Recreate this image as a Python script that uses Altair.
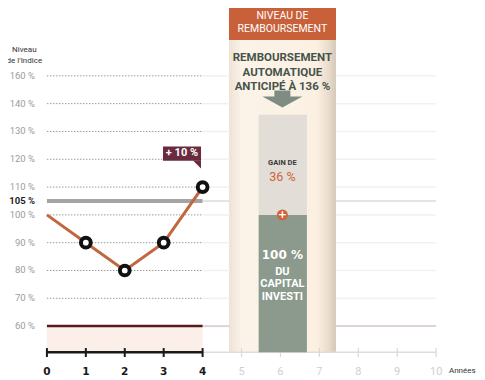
import altair as alt
import pandas as pd

# ---------------- data ----------------
years = [0, 1, 2, 3, 4]
index_levels = [100, 90, 80, 90, 110]
marker_years = [1, 2, 3, 4]
marker_levels = [90, 80, 90, 110]
all_years = [0, 1, 2, 3, 4, 5, 6, 7, 8, 9, 10]
grid_levels = [150, 140, 130, 120, 110, 100, 90, 80, 70]
grid_labels = ["160 %", "140 %", "130 %", "120 %", "110 %", "100 %", "90 %", "80 %", "70 %"]
barrier_level = 60
barrier_label = "60 %"
trigger_level = 105
trigger_label = "105 %"
redemption_level = 136
capital_level = 100
gain_label = "36 %"
perf_label = "+ 10 %"
header_lines = ["NIVEAU DE", "REMBOURSEMENT"]
redemption_lines = ["REMBOURSEMENT", "AUTOMATIQUE", "ANTICIPÉ À 136 %"]
capital_lines = ["100 %", "DU", "CAPITAL", "INVESTI"]
y_title_lines = ["Niveau", "de l'Indice"]
x_title = "Années"

# ---------------- layout ----------------
W, H = 469, 372
X0, X1 = -1.0, 11.05
PXY = 2.7807
Y1 = 174.4
Y0 = Y1 - H / PXY
AXIS_Y = 50.6
COL_X0, COL_X1 = 4.678, 7.427
BAR_X0, BAR_X1 = 5.44, 6.68
COL_C = 6.05

xs = alt.Scale(domain=[X0, X1], nice=False, zero=False)
ys = alt.Scale(domain=[Y0, Y1], nice=False, zero=False)


def X(f="x"):
    return alt.X(f"{f}:Q", scale=xs, axis=None)


def Y(f="y"):
    return alt.Y(f"{f}:Q", scale=ys, axis=None)


def rect(df, **kw):
    return alt.Chart(df).mark_rect(**kw).encode(
        x=X("x"), x2="x2:Q", y=Y("y"), y2="y2:Q")


def hline(df, **kw):
    return alt.Chart(df).mark_rule(**kw).encode(x=X("x"), x2="x2:Q", y=Y("y"))


def text(df, **kw):
    return alt.Chart(df).mark_text(**kw).encode(x=X("x"), y=Y("y"), text="t:N")


COND = "Roboto"
HEAD = "Roboto"
BOLD = "DejaVu Sans"

layers = []

# beige column with gradient
layers.append(rect(pd.DataFrame({"x": [COL_X0], "x2": [COL_X1], "y": [AXIS_Y], "y2": [Y1]}),
                   fill=alt.Gradient(gradient="linear", x1=0, x2=1, y1=0, y2=0, stops=[
                       alt.GradientStop(color="#ede2d4", offset=0),
                       alt.GradientStop(color="#fbf3e9", offset=0.12),
                       alt.GradientStop(color="#fbf0e2", offset=0.82),
                       alt.GradientStop(color="#eadccb", offset=0.93),
                       alt.GradientStop(color="#d6c8ba", offset=1)])))

# faint right-side lines
layers.append(hline(pd.DataFrame({"x": [4] * len(grid_levels), "x2": [4.7] * len(grid_levels),
                                  "y": grid_levels}), color="#f0f0f0", strokeWidth=1.5))
layers.append(hline(pd.DataFrame({"x": [COL_X1] * len(grid_levels), "x2": [10.0] * len(grid_levels),
                                  "y": grid_levels}), color="#f1f1f1", strokeWidth=1.5))
layers.append(hline(pd.DataFrame({"x": [4, COL_X1], "x2": [4.7, 10.0], "y": [trigger_level] * 2}),
                    color="#e4e4e4", strokeWidth=2))
layers.append(hline(pd.DataFrame({"x": [4, COL_X1], "x2": [4.7, 10.0], "y": [barrier_level] * 2}),
                    color="#ddd3d3", strokeWidth=2))

# pink zone below barrier
layers.append(rect(pd.DataFrame({"x": [0], "x2": [4], "y": [AXIS_Y], "y2": [barrier_level]}),
                   color="#fcefea"))

# dotted gridlines
layers.append(hline(pd.DataFrame({"x": [0] * len(grid_levels), "x2": [4] * len(grid_levels),
                                  "y": grid_levels}), color="#9a9a9a", strokeWidth=1,
                    strokeDash=[1.5, 1.5]))
# trigger line
layers.append(hline(pd.DataFrame({"x": [0], "x2": [4], "y": [trigger_level]}),
                    color="#a4a4a4", strokeWidth=4))
# barrier line
layers.append(hline(pd.DataFrame({"x": [0], "x2": [4], "y": [barrier_level]}),
                    color="#5a1818", strokeWidth=2.5))

# y labels
layers.append(text(pd.DataFrame({"x": [-0.306] * (len(grid_levels) + 1),
                                 "y": grid_levels + [barrier_level],
                                 "t": grid_labels + [barrier_label]}),
                   align="right", baseline="middle", fontSize=9.5, color="#9c9c9c", font=COND))
layers.append(text(pd.DataFrame({"x": [-0.306], "y": [trigger_level], "t": [trigger_label]}),
                   align="right", baseline="middle", fontSize=9.5, color="#1e1e2a",
                   fontWeight="bold", font=COND))
layers.append(text(pd.DataFrame({"x": [-0.58] * 2, "y": [159.4, 155.3], "t": y_title_lines}),
                   align="center", baseline="middle", fontSize=8, color="#333333", font=COND))

# x axis (black part)
layers.append(hline(pd.DataFrame({"x": [0], "x2": [4], "y": [AXIS_Y]}), color="#1a1a1a", strokeWidth=2.5))
layers.append(hline(pd.DataFrame({"x": [4], "x2": [10], "y": [AXIS_Y]}), color="#dddddd", strokeWidth=1.5))
tick_df = pd.DataFrame({"x": all_years, "y": [52.1] * 11, "y2": [48.9] * 11,
                        "part": ["a"] * 5 + ["b"] * 6})
layers.append(alt.Chart(tick_df[tick_df.part == "a"]).mark_rule(color="#1a1a1a", strokeWidth=2).encode(
    x=X("x"), y=Y("y"), y2="y2:Q"))
layers.append(alt.Chart(tick_df[tick_df.part == "b"]).mark_rule(color="#d8d8d8", strokeWidth=1.2).encode(
    x=X("x"), y=Y("y"), y2="y2:Q"))
xl = pd.DataFrame({"x": all_years, "y": [43.6] * 11, "t": [str(v) for v in all_years]})
layers.append(text(xl[xl.x <= 4], align="center", baseline="middle", fontSize=10.5,
                   fontWeight="bold", color="#1a1a1a", font=BOLD))
layers.append(text(xl[xl.x > 4], align="center", baseline="middle", fontSize=11,
                   color="#d0d0d0", font=COND))
layers.append(text(pd.DataFrame({"x": [10.33], "y": [43.8], "t": [x_title]}),
                   align="left", baseline="middle", fontSize=8, color="#333333", font=COND))

# index path
path_df = pd.DataFrame({"x": years, "y": index_levels})
layers.append(alt.Chart(path_df).mark_line(color="#c0673f", strokeWidth=3).encode(x=X("x"), y=Y("y")))
mk_df = pd.DataFrame({"x": marker_years, "y": marker_levels})
layers.append(alt.Chart(mk_df).mark_point(shape="circle", filled=True, fill="white", stroke="#111111",
                                          strokeWidth=4, size=95, opacity=1).encode(x=X("x"), y=Y("y")))

# +10 % callout
layers.append(rect(pd.DataFrame({"x": [2.983], "x2": [3.959], "y": [119.5], "y2": [124.6]}),
                   color="#6a2b3f"))
layers.append(alt.Chart(pd.DataFrame({"x": [3.856], "y": [118.1]})).mark_point(
    shape="M-1,-1 L1,-1 L1,1 Z", filled=True, color="#6a2b3f", size=64, opacity=1).encode(
    x=X("x"), y=Y("y")))
layers.append(text(pd.DataFrame({"x": [3.47], "y": [122.1], "t": [perf_label]}),
                   align="center", baseline="middle", fontSize=11, fontWeight="bold",
                   color="white", font=COND))

# header box
layers.append(rect(pd.DataFrame({"x": [COL_X0], "x2": [COL_X1], "y": [162.9], "y2": [Y1]}),
                   color="#c8603a"))
layers.append(text(pd.DataFrame({"x": [COL_C] * 2, "y": [171.5, 166.85], "t": header_lines}),
                   align="center", baseline="middle", fontSize=10.5, color="white", font=COND))
layers.append(text(pd.DataFrame({"x": [COL_C] * 3, "y": [156.4, 151.0, 146.0], "t": redemption_lines}),
                   align="center", baseline="middle", fontSize=11.5, fontWeight="bold",
                   color="#46534b", font=HEAD))
# arrow
layers.append(alt.Chart(pd.DataFrame({"x": [COL_C], "y": [141.7]})).mark_point(
    shape="M-0.4,-0.42 L0.4,-0.42 L0.4,-0.12 L1,-0.12 L0,0.43 L-1,-0.12 L-0.4,-0.12 Z",
    filled=True, color="#7e8c83", size=1600, opacity=1).encode(x=X("x"), y=Y("y")))

# redemption bar
layers.append(rect(pd.DataFrame({"x": [BAR_X0], "x2": [BAR_X1], "y": [capital_level],
                                 "y2": [redemption_level]}), color="#e2ddd6"))
layers.append(rect(pd.DataFrame({"x": [BAR_X0], "x2": [BAR_X1], "y": [AXIS_Y],
                                 "y2": [capital_level]}), color="#8b9a8c"))
layers.append(text(pd.DataFrame({"x": [COL_C], "y": [118.7], "t": ["GAIN DE"]}),
                   align="center", baseline="middle", fontSize=7.5, fontWeight="bold",
                   color="#3a3a3a", font=COND))
layers.append(text(pd.DataFrame({"x": [COL_C], "y": [113.6], "t": [gain_label]}),
                   align="center", baseline="middle", fontSize=12.5,
                   color="#d0623c", font=COND))
layers.append(alt.Chart(pd.DataFrame({"x": [COL_C], "y": [capital_level]})).mark_point(
    shape="circle", filled=True, color="#d0623c", size=120, opacity=1).encode(x=X("x"), y=Y("y")))
layers.append(text(pd.DataFrame({"x": [COL_C], "y": [capital_level], "t": ["+"]}),
                   align="center", baseline="middle", dy=0.5, fontSize=11, fontWeight="bold",
                   color="white", font=BOLD))
layers.append(text(pd.DataFrame({"x": [COL_C], "y": [85.6], "t": [capital_lines[0]]}),
                   align="center", baseline="middle", fontSize=12, fontWeight="bold",
                   color="white", font=BOLD))
layers.append(text(pd.DataFrame({"x": [COL_C] * 3, "y": [79.6, 75.1, 70.6], "t": capital_lines[1:]}),
                   align="center", baseline="middle", fontSize=11, fontWeight="bold",
                   color="white", font=HEAD))

chart = alt.layer(*layers).properties(
    width=W, height=H, padding=0, autosize="none"
).configure_view(stroke=None)

chart.save("out.html", embed_options={"renderer": "svg", "actions": False})
